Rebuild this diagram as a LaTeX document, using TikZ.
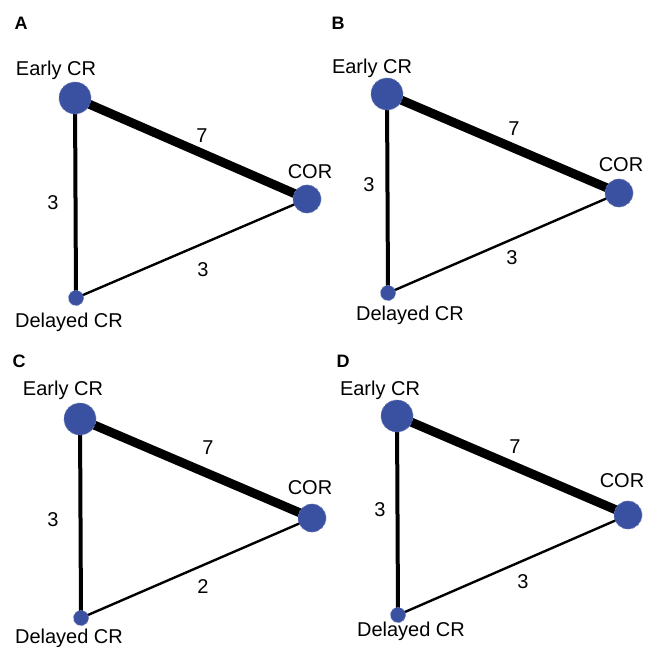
\documentclass[tikz,border=0pt]{standalone}
\usepackage{fontspec}
\setmainfont{Liberation Sans}
\usetikzlibrary{backgrounds}
\definecolor{nodeblue}{RGB}{58,80,160}
\tikzset{
  net/.style={circle, fill=nodeblue, draw=nodeblue!75!white, densely dashed, line width=0.6pt, inner sep=0pt},
  bignode/.style={net, minimum size=32pt},
  mednode/.style={net, minimum size=28pt},
  smallnode/.style={net, minimum size=15pt},
  lbl/.style={font=\fontsize{20}{24}\selectfont, inner sep=0pt},
  panel/.style={font=\fontsize{18}{21}\selectfont\bfseries, inner sep=0pt},
  thickedge/.style={line width=9pt, black},
  midedge/.style={line width=4pt, black},
  thinedge/.style={line width=2.4pt, black}
}
\begin{document}
\begin{tikzpicture}[x=1pt,y=-1pt]
\useasboundingbox (0,0) rectangle (646,647);
% Panel A
\node[panel] (pA) at (21,23) {A};
\node[bignode] (aE) at (75,98) {};
\node[mednode] (aC) at (307,199) {};
\node[smallnode] (aD) at (76,298) {};
\node[lbl] (aEl) at (56,70) {Early CR};
\node[lbl] (aCl) at (310,172) {COR};
\node[lbl] (aDl) at (69,322) {Delayed CR};
\node[lbl] (a7) at (202,136) {7};
\node[lbl] (a3l) at (53,203) {3};
\node[lbl] (a3b) at (203,270) {3};
% Panel B
\node[panel] (pB) at (338,23) {B};
\node[bignode] (bE) at (387,94) {};
\node[mednode] (bC) at (619,193) {};
\node[smallnode] (bD) at (388,293) {};
\node[lbl] (bEl) at (372,68) {Early CR};
\node[lbl] (bCl) at (621,165) {COR};
\node[lbl] (bDl) at (410,315) {Delayed CR};
\node[lbl] (b7) at (514,129) {7};
\node[lbl] (b3l) at (369,185) {3};
\node[lbl] (b3b) at (512,258) {3};
% Panel C
\node[panel] (pC) at (19,361) {C};
\node[bignode] (cE) at (80,419) {};
\node[mednode] (cC) at (312,518) {};
\node[smallnode] (cD) at (81,618) {};
\node[lbl] (cEl) at (63,390) {Early CR};
\node[lbl] (cCl) at (310,488) {COR};
\node[lbl] (cDl) at (69,638) {Delayed CR};
\node[lbl] (c7) at (208,448) {7};
\node[lbl] (c3l) at (53,520) {3};
\node[lbl] (c2b) at (203,587) {2};
% Panel D
\node[panel] (pD) at (343,361) {D};
\node[bignode] (dE) at (397,416) {};
\node[mednode] (dC) at (628,515) {};
\node[smallnode] (dD) at (398,615) {};
\node[lbl] (dEl) at (380,390) {Early CR};
\node[lbl] (dCl) at (622,481) {COR};
\node[lbl] (dDl) at (411,631) {Delayed CR};
\node[lbl] (d7) at (515,447) {7};
\node[lbl] (d3l) at (380,510) {3};
\node[lbl] (d3b) at (523,582) {3};
\begin{scope}[on background layer]
  \foreach \p in {a,b,c,d}{
    \draw[thickedge] (\p E.center) -- (\p C.center);
    \draw[midedge] (\p E.center) -- (\p D.center);
    \draw[thinedge] (\p D.center) -- (\p C.center);
  }
\end{scope}
\end{tikzpicture}
\end{document}
